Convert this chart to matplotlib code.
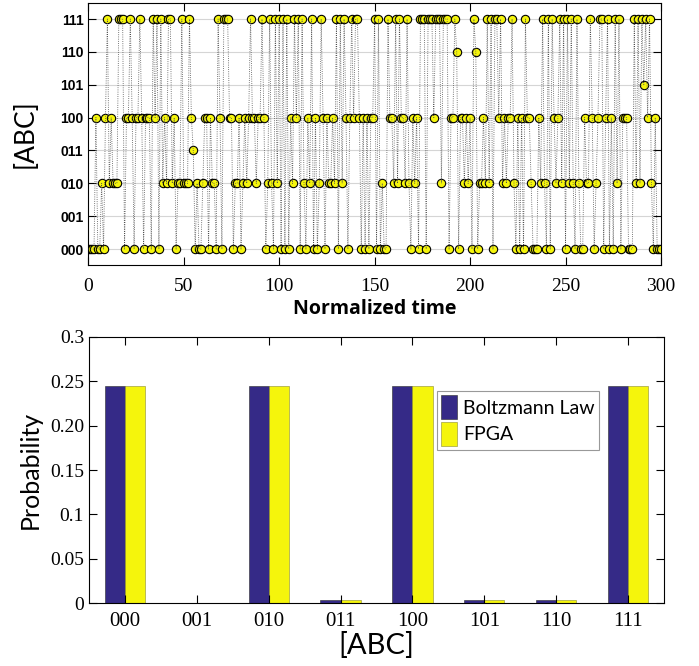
import matplotlib
matplotlib.use('Agg')
import matplotlib.pyplot as plt
import numpy as np

# states of [ABC] over normalized time, one digit per step (index into state_labels)
state_labels = ['000', '001', '010', '011', '100', '101', '110', '111']
state_trace = ("000040020" "4724222777" "0447404474" "0444074707" "2427724022"
               "7222743020" "0244042207" "4077744022" "4024247442" "4474027207"
               "2707070427" "4707204270" "4027404224" "2707274047" "4774040404"
               "4707020074" "4272744272" "0424077707" "7747772777" "0447604424"
               "2407602242" "7270774724" "2447204040" "7442000427" "2070742472"
               "7072720720" "0422740247" "7047040727" "0444000727" "2757472040"
               "00")

# probability of each state
boltzmann = [0.245, 0.0, 0.245, 0.004, 0.245, 0.004, 0.004, 0.245]
fpga = [0.245, 0.0, 0.245, 0.004, 0.245, 0.004, 0.004, 0.245]
prob_ticks = [0, 0.05, 0.1, 0.15, 0.2, 0.25, 0.3]
prob_labels = ['0', '0.05', '0.1', '0.15', '0.20', '0.25', '0.3']

blue = '#352a87'
yellow = '#f5f50c'
serif = 'Liberation Serif'

t = np.arange(len(state_trace))
s = np.array([int(c) for c in state_trace])

fig = plt.figure(figsize=(6.99, 6.66), dpi=100)

# ---- top: state trace
ax1 = fig.add_axes([0.1263, 0.6014, 0.8193, 0.3947])
ax1.plot(t, s, ls='none', marker='o', ms=6.0, mfc=yellow, mec='k', mew=0.8, zorder=2)
ax1.plot(t, s, ls=':', color='0.3', lw=0.6, zorder=3)
ax1.set_xlim(0, 300)
ax1.set_ylim(-0.5, 7.5)
ax1.set_yticks(range(8))
ax1.set_yticklabels(state_labels, fontsize=10, fontweight='bold', family='Liberation Sans')
ax1.set_xticks(range(0, 301, 50))
ax1.set_xticklabels([str(v) for v in range(0, 301, 50)], fontsize=14, family=serif)
ax1.tick_params(direction='in', top=True, right=True, length=6, width=0.8)
ax1.tick_params(axis='x', pad=9)
ax1.grid(axis='y', color='#d5d5d5', lw=0.8, zorder=0)
ax1.set_axisbelow(True)
ax1.set_xlabel('Normalized time', fontsize=14, fontweight='bold', family='Open Sans', labelpad=3)
ax1.set_ylabel('[ABC]', fontsize=19, family='Lato', labelpad=16)

# ---- bottom: probability bars
ax2 = fig.add_axes([0.1273, 0.0941, 0.8226, 0.4003])
x = np.arange(1, len(state_labels) + 1)
w = 0.28
ax2.bar(x - w / 2, boltzmann, w, color=blue, edgecolor='#2a2a2a', lw=0.4, label='Boltzmann Law')
ax2.bar(x + w / 2, fpga, w, color=yellow, edgecolor='#8a8a30', lw=0.4, label='FPGA')
ax2.set_xlim(0.5, 8.5)
ax2.set_ylim(0, 0.3)
ax2.set_xticks(x)
ax2.set_xticklabels(state_labels, fontsize=15, family=serif)
ax2.set_yticks(prob_ticks)
ax2.set_yticklabels(prob_labels, fontsize=14, family=serif)
ax2.tick_params(direction='in', top=True, right=True, length=6, width=0.8)
ax2.tick_params(axis='x', pad=6)
ax2.set_xlabel('[ABC]', fontsize=21, family='Lato', labelpad=1)
ax2.set_ylabel('Probability', fontsize=18, family='Lato', labelpad=6)
leg = ax2.legend(loc='upper left', bbox_to_anchor=(0.605, 0.795),
                 prop={'family': 'Lato', 'size': 14}, fancybox=False, edgecolor='0.5',
                 handlelength=0.85, handleheight=1.5, borderpad=0.2, labelspacing=0.15,
                 handletextpad=0.3, borderaxespad=0)
leg.get_frame().set_linewidth(0.8)

fig.savefig('out.png', dpi=100)
